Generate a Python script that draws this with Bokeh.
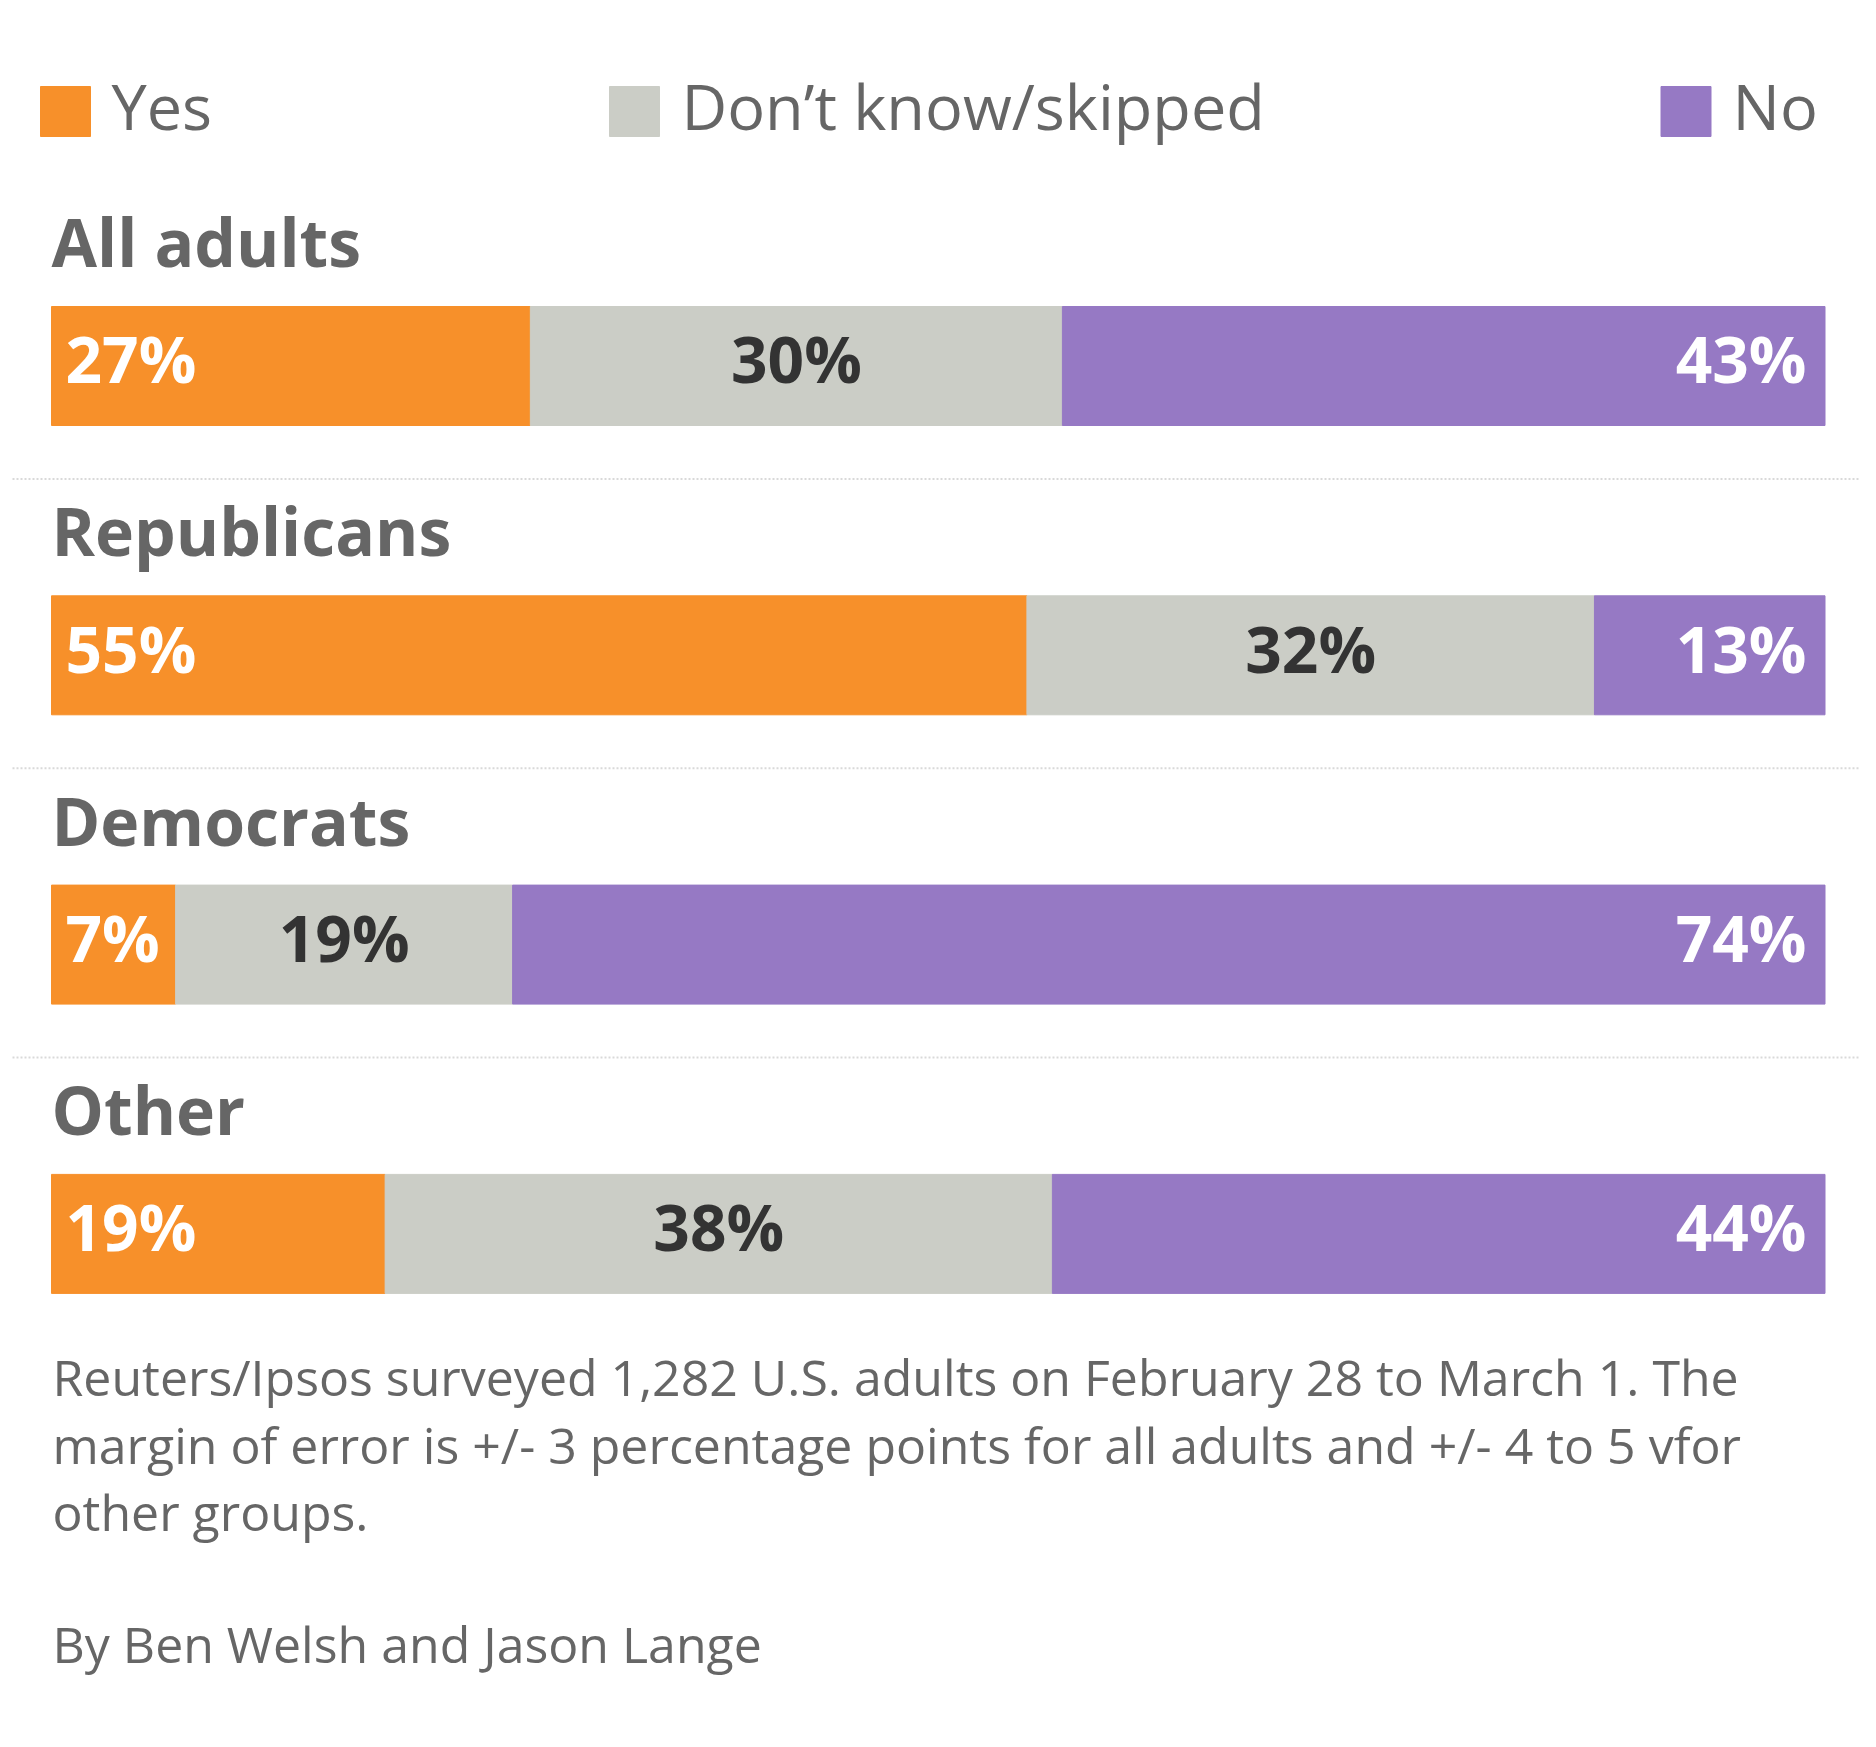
from bokeh.plotting import figure
from bokeh.models import Range1d, ColumnDataSource
from bokeh.embed import file_html
from bokeh.resources import INLINE
from bokeh.core.properties import value

# ---- data ----
groups = ["All adults", "Republicans", "Democrats", "Other"]
yes = [27, 55, 7, 19]
dont_know = [30, 32, 19, 38]
no = [43, 13, 74, 44]
series_names = ["Yes", "Don\u2019t know/skipped", "No"]
series_colors = ["#F7902A", "#CBCDC6", "#9679C4"]
footnote = ["Reuters/Ipsos surveyed 1,282 U.S. adults on February 28 to March 1. The",
            "margin of error is +/- 3 percentage points for all adults and +/- 4 to 5 vfor",
            "other groups."]
byline = "By Ben Welsh and Jason Lange"

FONT = "Open Sans"
W, H = 1860, 1731
BAR_L, BAR_R = 51.0, 1824.5          # pixel extent of the 0..100 scale
scale = (BAR_R - BAR_L) / 100.0
xs = -BAR_L / scale
xe = xs + W / scale
BL = 0.43  # baseline compensation (fraction of font size)

def X(px):
    return xs + px / scale

p = figure(width=W, height=H, x_range=Range1d(xs, xe), y_range=Range1d(H, 0),
           output_backend="svg", toolbar_location=None, min_border=0)
p.axis.visible = False
p.grid.visible = False
p.outline_line_color = None
p.background_fill_color = "white"
p.border_fill_color = "white"

row_centers = [365.5 + i * 289.3 for i in range(len(groups))]
bar_h = 119

# ---- stacked bars ----
lefts, rights, ys, cols = [], [], [], []
lab_x, lab_y, lab_t, lab_c, lab_a = [], [], [], [], []
PCT = 64
for i, g in enumerate(groups):
    vals = [yes[i], dont_know[i], no[i]]
    tot = float(sum(vals))
    acc = 0.0
    for j, v in enumerate(vals):
        l = acc / tot * 100
        r = (acc + v) / tot * 100
        lefts.append(l); rights.append(r); ys.append(row_centers[i]); cols.append(series_colors[j])
        acc += v
        if j == 0:
            lab_x.append(l + 14 / scale); lab_a.append("left"); lab_c.append("white")
        elif j == 1:
            lab_x.append((l + r) / 2); lab_a.append("center"); lab_c.append("#333333")
        else:
            lab_x.append(r - 18.5 / scale); lab_a.append("right"); lab_c.append("white")
        lab_y.append(row_centers[i] + 20.5 - BL * PCT)
        lab_t.append(f"{v}%")

p.hbar(y="y", left="left", right="right", height=bar_h, color="color",
       source=ColumnDataSource(dict(y=ys, left=lefts, right=rights, color=cols)))

p.text(x="x", y="y", text="t", text_color="c", text_align="a",
       source=ColumnDataSource(dict(x=lab_x, y=lab_y, t=lab_t, c=lab_c, a=lab_a)),
       text_font=value(FONT), text_font_size=f"{PCT}px", text_font_style="bold",
       text_baseline="alphabetic")

# ---- group titles ----
GT = 66
p.text(x=[X(51)] * len(groups), y=[c - 96.5 - BL * GT for c in row_centers], text=groups,
       text_font=value(FONT), text_font_size=f"{GT}px", text_font_style="bold",
       text_color="#666666", text_baseline="alphabetic")

# ---- separators ----
sep_y = [c + 113 for c in row_centers[:-1]]
p.segment(x0=[X(12)] * len(sep_y), x1=[X(1864)] * len(sep_y), y0=sep_y, y1=sep_y,
          line_color="#d9d9d9", line_width=2, line_dash="2 2")

# ---- legend ----
LG = 63
sq_x = [40, 609, 1660.5]
txt_x = [111, 681, 1732]
p.quad(left=[X(v) for v in sq_x], right=[X(v + 50) for v in sq_x],
       top=[86] * 3, bottom=[136] * 3, color=series_colors)
p.text(x=[X(v) for v in txt_x], y=[132 - BL * LG] * 3, text=series_names,
       text_font=value(FONT), text_font_size=f"{LG}px", text_color="#666666",
       text_baseline="alphabetic")

# ---- footnote ----
FN = 50
p.text(x=[X(52)] * len(footnote), y=[b - BL * FN for b in [1398, 1466, 1533]], text=footnote,
       text_font=value(FONT), text_font_size=f"{FN}px", text_color="#666666",
       text_baseline="alphabetic")
p.text(x=[X(52)], y=[1665 - BL * FN], text=[byline],
       text_font=value(FONT), text_font_size=f"{FN}px", text_color="#666666",
       text_baseline="alphabetic")

open("out.html", "w").write(file_html(p, INLINE))
